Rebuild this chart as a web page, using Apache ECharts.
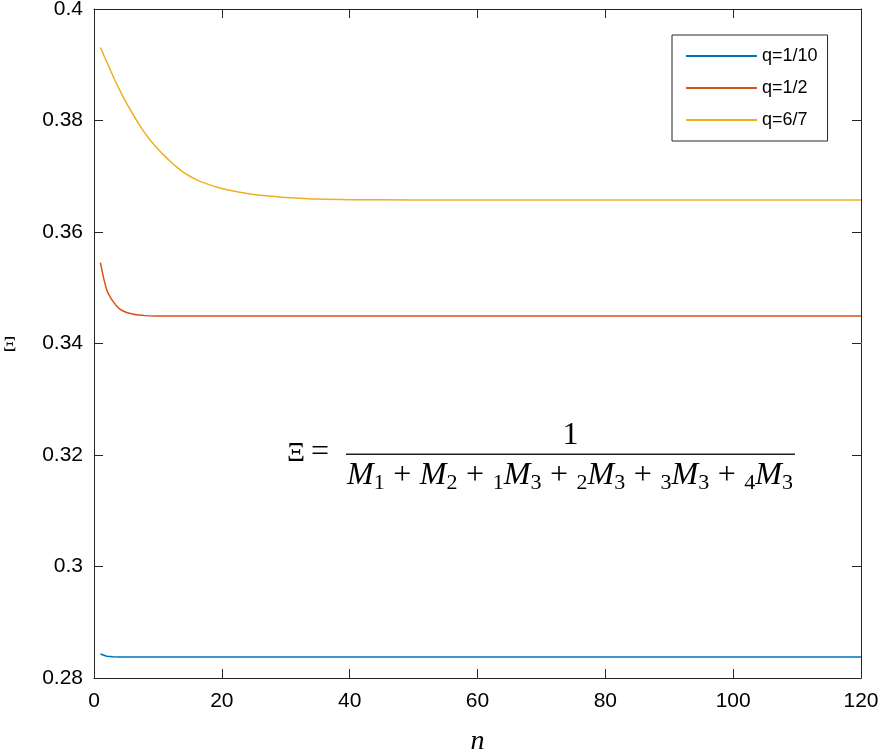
<!DOCTYPE html>
<html>
<head>
<meta charset="utf-8">
<script src="https://cdn.jsdelivr.net/npm/echarts@6/dist/echarts.min.js"></script>
<style>
  html, body { margin: 0; padding: 0; background: #fff; overflow: hidden; }
  #chart { width: 880px; height: 753px; }
</style>
</head>
<body>
<div id="chart"></div>
<script>
// q = 1/10
const nBlue = [1, 2, 3, 4, 6, 10, 20, 40, 60, 80, 100, 120]
const blueVals = [0.2843, 0.2839, 0.2838, 0.28378, 0.28377, 0.28377, 0.28377, 0.28377, 0.28377, 0.28377, 0.28377, 0.28377]

// q = 1/2
const nRed = [1, 2, 3, 4, 5, 6, 7, 8, 10, 12, 20, 40, 60, 80, 100, 120]
const redVals = [0.3545, 0.3496, 0.3475, 0.3462, 0.3456, 0.3453, 0.3451, 0.3450, 0.34495, 0.34493, 0.34493, 0.34493, 0.34493, 0.34493, 0.34493, 0.34493]

// q = 6/7
const nYellow = [1, 2, 3, 4, 5, 6, 7, 8, 9, 10, 11, 12, 13, 14, 15, 16, 17, 18, 20, 22, 24, 26, 28, 30, 35, 40, 50, 60, 80, 100, 120]
const yellowVals = [0.3931, 0.3905, 0.3879, 0.3855, 0.3833, 0.3813, 0.3794, 0.3777, 0.3762, 0.3749, 0.3737, 0.3726, 0.3716, 0.3707, 0.3700, 0.3694, 0.3689, 0.3685, 0.3678, 0.3673, 0.3669, 0.3666, 0.3664, 0.3662, 0.3659, 0.3658, 0.36575, 0.36574, 0.36574, 0.36574, 0.36574]

const seriesNames = ['q=1/10', 'q=1/2', 'q=6/7']
const seriesColors = ['#0072BD', '#D95319', '#EDB120']
const xTicks = { min: 0, max: 120, step: 20 }
const yTicks = { min: 0.28, max: 0.4, step: 0.02 }

// denominator of the formula: [text, kind] with m = italic letter, s = subscript, o = operator
const denomParts = [
  ['M', 'm'], ['1', 's'], ['+', 'o'], ['M', 'm'], ['2', 's'], ['+', 'o'],
  ['1', 's'], ['M', 'm'], ['3', 's'], ['+', 'o'], ['2', 's'], ['M', 'm'], ['3', 's'], ['+', 'o'],
  ['3', 's'], ['M', 'm'], ['3', 's'], ['+', 'o'], ['4', 's'], ['M', 'm'], ['3', 's']
]

function pairs (ns, vs) {
  return ns.map((n, i) => [n, vs[i]])
}

let myChart = echarts.init(document.getElementById('chart'))

const axisColor = '#262626'
const labelFont = '"Liberation Sans", Arial, sans-serif'
const mathFamily = '"Liberation Serif", "DejaVu Serif", serif'
const mathSize = 32
const subSize = 22

function xAxisDef (pos, showLabel) {
  return {
    type: 'value',
    position: pos,
    min: xTicks.min,
    max: xTicks.max,
    interval: xTicks.step,
    axisLine: { show: true, onZero: false, lineStyle: { color: axisColor, width: 1 } },
    axisTick: { show: true, inside: true, length: 9, lineStyle: { color: axisColor } },
    axisLabel: { show: showLabel, color: '#000', fontSize: 21, margin: 13, fontFamily: labelFont },
    splitLine: { show: false }
  }
}

function yAxisDef (pos, showLabel) {
  return {
    type: 'value',
    position: pos,
    min: yTicks.min,
    max: yTicks.max,
    interval: yTicks.step,
    axisLine: { show: true, onZero: false, lineStyle: { color: axisColor, width: 1 } },
    axisTick: { show: true, inside: true, length: 9, lineStyle: { color: axisColor } },
    axisLabel: { show: showLabel, color: '#000', fontSize: 21, margin: 11, fontFamily: labelFont },
    splitLine: { show: false }
  }
}

// lay out the formula text pieces by measuring them
const ctx = document.createElement('canvas').getContext('2d')
function fontOf (kind, size) {
  if (kind === 'm') return 'italic ' + (size || mathSize) + 'px ' + mathFamily
  if (kind === 's') return (size || subSize) + 'px ' + mathFamily
  return (size || mathSize) + 'px ' + mathFamily
}
function widthOf (t, kind) {
  ctx.font = fontOf(kind)
  return ctx.measureText(t).width
}
// text drawn with 'middle' baseline: put the alphabetic baseline at b
function glyph (t, kind, x, b, align, size) {
  const fs = size || (kind === 's' ? subSize : mathSize)
  return {
    type: 'text',
    x: x,
    y: b - 0.3 * fs,
    style: { text: t, font: fontOf(kind, fs), fill: '#000', align: align || 'left', verticalAlign: 'middle' }
  }
}

const fracLeft = 346
const fracRight = 795
const baseDen = 485
const formula = []
let glyphW = 0
let nOps = 0
denomParts.forEach(p => {
  glyphW += widthOf(p[0], p[1])
  if (p[1] === 'o') nOps++
})
const opGap = (fracRight - fracLeft - 3 - glyphW) / (2 * nOps)
let cx = fracLeft + 1
denomParts.forEach(p => {
  const sub = p[1] === 's'
  if (p[1] === 'o') cx += opGap
  formula.push(glyph(p[0], p[1], cx, sub ? baseDen + 5 : baseDen))
  cx += widthOf(p[0], p[1])
  if (p[1] === 'o') cx += opGap
})
formula.push(glyph('1', 'o', (fracLeft + fracRight) / 2, 445, 'center'))
formula.push(glyph('Ξ', 'o', 287, 462, 'left', 28))
formula.push(glyph('=', 'o', 311, 462))
formula.push({ type: 'rect', shape: { x: fracLeft, y: 453.5, width: fracRight - fracLeft, height: 1.4 }, style: { fill: '#222' } })
// y-axis label
formula.push(glyph('Ξ', 'o', 3, 352, 'left', 21))

myChart.setOption({
  animation: false,
  backgroundColor: '#fff',
  grid: { left: 94, right: 19, top: 9, bottom: 75, containLabel: false, outerBoundsMode: 'none' },
  xAxis: [
    Object.assign(xAxisDef('bottom', true), {
      name: 'n',
      nameLocation: 'middle',
      nameGap: 50,
      nameTextStyle: { fontFamily: mathFamily, fontStyle: 'italic', fontSize: 28, color: '#000' }
    }),
    xAxisDef('top', false)
  ],
  yAxis: [yAxisDef('left', true), yAxisDef('right', false)],
  legend: {
    orient: 'vertical',
    left: 672,
    top: 35,
    icon: 'rect',
    itemWidth: 71,
    itemHeight: 2,
    itemGap: 14,
    padding: [12, 10, 12, 14],
    borderColor: axisColor,
    borderWidth: 1,
    backgroundColor: '#fff',
    textStyle: { fontSize: 18, color: '#000', fontFamily: labelFont },
    data: seriesNames
  },
  series: [
    { name: seriesNames[0], type: 'line', data: pairs(nBlue, blueVals), showSymbol: false, symbol: 'none', color: seriesColors[0], lineStyle: { width: 1.5 } },
    { name: seriesNames[1], type: 'line', data: pairs(nRed, redVals), showSymbol: false, symbol: 'none', color: seriesColors[1], lineStyle: { width: 1.5 }, smooth: 0.3 },
    { name: seriesNames[2], type: 'line', data: pairs(nYellow, yellowVals), showSymbol: false, symbol: 'none', color: seriesColors[2], lineStyle: { width: 1.5 }, smooth: 0.3 }
  ],
  graphic: formula
})
</script>
</body>
</html>
